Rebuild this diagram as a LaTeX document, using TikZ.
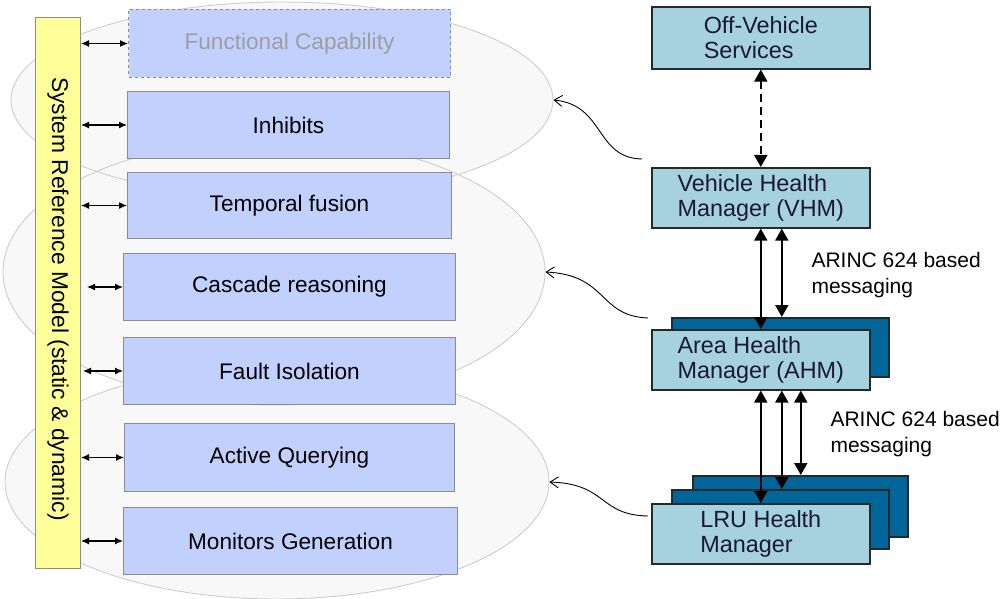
\documentclass[tikz,border=0pt]{standalone}
\usepackage{fontspec}
\setmainfont{Liberation Sans}
\usetikzlibrary{arrows.meta,shapes.geometric,calc}
\definecolor{ellfill}{RGB}{248,248,248}
\definecolor{elldraw}{RGB}{205,205,205}
\definecolor{lboxfill}{RGB}{193,208,253}
\definecolor{lboxdraw}{RGB}{140,140,140}
\definecolor{srmfill}{RGB}{255,255,153}
\definecolor{rboxfill}{RGB}{166,209,222}
\definecolor{rboxdraw}{RGB}{40,40,40}
\definecolor{rboxback}{RGB}{0,102,153}
\definecolor{rtext}{RGB}{25,25,55}
\begin{document}
\begin{tikzpicture}[x=1pt,y=-1pt,
  ell/.style={ellipse,fill=ellfill,inner sep=0pt},
  ellline/.style={ellipse,draw=elldraw,line width=0.9pt,inner sep=0pt},
  lbox/.style={draw=lboxdraw,fill=lboxfill,line width=1pt,inner sep=0pt,anchor=north west,
    font=\fontsize{22.6}{26}\selectfont},
  rbox/.style={draw=rboxdraw,fill=rboxfill,line width=1.6pt,inner sep=0pt,anchor=north west,
    minimum width=218pt,minimum height=60pt,align=left,text=rtext,
    font=\fontsize{23.4}{25.5}\selectfont},
  rback/.style={draw=rboxdraw,fill=rboxback,line width=1.6pt,inner sep=0pt,anchor=north west,
    minimum width=217pt,minimum height=59pt},
  small/.style={{Latex[length=8pt,width=7pt]}-{Latex[length=8pt,width=7pt]},line width=1.2pt},
  big/.style={{Triangle[length=12pt,width=13pt]}-{Triangle[length=12pt,width=13pt]},line width=1.8pt},
  link/.style={-{Straight Barb[length=8pt,width=11pt]},line width=0.9pt},
  note/.style={anchor=west,align=left,font=\fontsize{21}{26}\selectfont}]
\useasboundingbox (0,0) rectangle (1005,599);

% grouping ellipses: fills first, then outlines so every border shows
\node[ell,minimum width=542pt,minimum height=196pt] at (282,100) {};
\node[ell,minimum width=542pt,minimum height=266pt] at (274,272) {};
\node[ell,minimum width=544pt,minimum height=234pt] at (277,482) {};
\node[ellline,minimum width=542pt,minimum height=196pt] (e1) at (282,100) {};
\node[ellline,minimum width=542pt,minimum height=266pt] (e2) at (274,272) {};
\node[ellline,minimum width=544pt,minimum height=234pt] (e3) at (277,482) {};

% reasoning functions
\node[lbox,dashed,text=black!38,minimum width=322pt,minimum height=68pt] (fc) at (128,9) {Functional Capability};
\node[lbox,minimum width=322pt,minimum height=67pt] (inh) at (127,91) {Inhibits};
\node[lbox,minimum width=324pt,minimum height=66pt] (tf) at (127,172) {Temporal fusion};
\node[lbox,minimum width=332pt,minimum height=67pt] (cr) at (123,253) {Cascade reasoning};
\node[lbox,minimum width=332pt,minimum height=67pt] (fi) at (123,337) {Fault Isolation};
\node[lbox,minimum width=330pt,minimum height=68pt] (aq) at (124,423) {Active Querying};
\node[lbox,minimum width=334pt,minimum height=67pt] (mg) at (123,507) {Monitors Generation};

% system reference model bar
\node[draw=lboxdraw,fill=srmfill,line width=1pt,inner sep=0pt,anchor=north west,
  minimum width=45pt,minimum height=551pt] (srm) at (35,17) {};
\node[rotate=-90,font=\fontsize{22.8}{26}\selectfont] at ($(srm.center)+(0,6)$)
  {System Reference Model (static \& dynamic)};

\draw[small] (srm.east |- fc.west) -- (fc.west);
\draw[small] (srm.east |- inh.west) -- (inh.west);
\draw[small] (srm.east |- tf.west) -- (tf.west);
\draw[small,shorten <=6pt] (srm.east |- cr.west) -- (cr.west);
\draw[small,shorten <=2pt] (srm.east |- fi.west) -- (fi.west);
\draw[small] (srm.east |- aq.west) -- (aq.west);
\draw[small] (srm.east |- mg.west) -- (mg.west);

% health management hierarchy
\node[rbox,minimum height=62pt] (ovs) at (651,6) {Off-Vehicle\\Services};
\node[rbox] (vhm) at (651,167) {Vehicle Health\\Manager (VHM)};
\node[rback] (ahmb) at (671,317) {};
\node[rbox] (ahm) at (651,329) {Area Health\\Manager (AHM)};
\node[rback,minimum width=215pt,minimum height=61pt] (lrub2) at (692,475) {};
\node[rback] (lrub1) at (671,489) {};
\node[rbox] (lru) at (651,503) {LRU Health\\Manager};

\draw[big,dashed,dash pattern=on 8pt off 5pt] (ovs.south) -- (vhm.north);
\draw[big] (vhm.south) -- (vhm.south |- ahm.north);
\draw[big] ([xshift=21pt]vhm.south) -- ([xshift=21pt]vhm.south |- ahmb.north);
\draw[big] (ahm.south) -- (ahm.south |- lru.north);
\draw[big] ([xshift=21pt]ahm.south) -- ([xshift=21pt]ahm.south |- lrub1.north);
\draw[big] ([xshift=40pt]ahm.south) -- ([xshift=40pt]ahm.south |- lrub2.north);

\node[note] (m1) at (808,275) {ARINC 624 based\\messaging};
\node[note] (m2) at (827,434) {ARINC 624 based\\messaging};

% links from each level to its group of functions
\coordinate (s1) at ([xshift=-9pt,yshift=8pt]vhm.north west);
\coordinate (s2) at ([xshift=-3pt,yshift=11pt]ahm.north west);
\coordinate (s3) at ([xshift=-3pt,yshift=-13pt]lru.north west);
\draw[link] (s1) .. controls (595,158) and (605,105) .. (e1.east);
\draw[link] (s2) .. controls (598,316) and (608,275) .. (e2.east);
\draw[link] (s3) .. controls (598,515) and (608,484) .. (e3.east);
\end{tikzpicture}
\end{document}
